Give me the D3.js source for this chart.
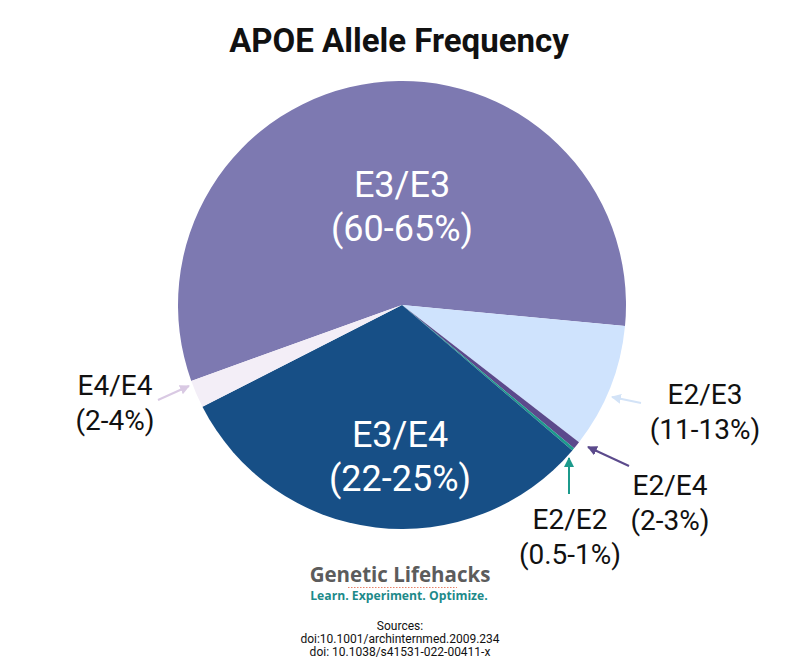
<!DOCTYPE html>
<html><head><meta charset="utf-8">
<script src="https://cdn.jsdelivr.net/npm/d3@7"></script>
<style>body{margin:0;background:#fff;} svg{display:block;font-family:Roboto,"Noto Sans",sans-serif;}</style>
</head><body>
<svg id="c" width="800" height="672"></svg>
<script>
const categories = ["E3/E3","E2/E3","E2/E4","E2/E2","E3/E4","E4/E4"];
const values = [57, 9, 0.55, 0.2, 31.25, 2];
const rangeLabels = ["(60-65%)","(11-13%)","(2-3%)","(0.5-1%)","(22-25%)","(2-4%)"];
const colors = ["#7d79b1","#cfe3fd","#5b4a8c","#1c9a8c","#174f86","#f3eef7"];

const svg = d3.select("#c");
const cx = 402, cy = 305, R = 224;
const pie = d3.pie().sort(null).value(d => d.v)
  .startAngle(-109.8 * Math.PI/180).endAngle(250.2 * Math.PI/180);
const data = categories.map((c,i)=>({c, v: values[i], r: rangeLabels[i], col: colors[i]}));
const arcs = pie(data);
const arc = d3.arc().innerRadius(0).outerRadius(R);
const g = svg.append("g").attr("transform", `translate(${cx},${cy})`);
g.selectAll("path").data(arcs).join("path").attr("d", arc).attr("fill", d => d.data.col);

svg.append("text").attr("x", 399).attr("y", 52).attr("text-anchor","middle")
  .attr("font-size", 33).attr("font-weight", 700).attr("fill","#111").text("APOE Allele Frequency");

// inner labels
const inner = [{i:0, x:402, y:197}, {i:4, x:400, y:447}];
inner.forEach(o => {
  const t = svg.append("text").attr("text-anchor","middle").attr("fill","#fff").attr("font-size",36);
  t.append("tspan").attr("x", o.x).attr("y", o.y).text(categories[o.i]);
  t.append("tspan").attr("x", o.x).attr("y", o.y + 44).text(rangeLabels[o.i]);
});

// outer labels
const outer = [
  {i:5, x:115, y:395, arrow:[158,400,189,386]},
  {i:1, x:705, y:404, arrow:[641,403,612,397]},
  {i:2, x:670, y:495, arrow:[629,466,588,447]},
  {i:3, x:570, y:529, arrow:[569,494,569,458]}
];
const defs = svg.append("defs");
outer.forEach((o,k) => {
  const col = k===0 ? "#d9c9e3" : (k===1 ? "#d3e3f7" : colors[o.i]);
  defs.append("marker").attr("id","m"+k).attr("viewBox","0 0 10 10").attr("refX",9).attr("refY",5)
    .attr("markerWidth",5).attr("markerHeight",5).attr("orient","auto")
    .append("path").attr("d","M0,0L10,5L0,10z").attr("fill",col);
  svg.append("line").attr("x1",o.arrow[0]).attr("y1",o.arrow[1]).attr("x2",o.arrow[2]).attr("y2",o.arrow[3])
    .attr("stroke",col).attr("stroke-width",2).attr("marker-end","url(#m"+k+")");
  const t = svg.append("text").attr("text-anchor","middle").attr("fill","#111").attr("font-size",28);
  t.append("tspan").attr("x", o.x).attr("y", o.y).text(categories[o.i]);
  t.append("tspan").attr("x", o.x).attr("y", o.y + 35).text(rangeLabels[o.i]);
});

// logo
svg.append("text").attr("x",400).attr("y",582).attr("text-anchor","middle").attr("font-family","'Open Sans',sans-serif")
  .attr("font-size",20.5).attr("font-weight",700).attr("fill","#5c5c5c").text("Genetic Lifehacks");
svg.append("line").attr("x1",348).attr("x2",457).attr("y1",587.5).attr("y2",587.5)
  .attr("stroke","#e8836a").attr("stroke-width",1.2).attr("stroke-dasharray","1.5,1.5");
svg.append("text").attr("x",399).attr("y",600).attr("text-anchor","middle").attr("font-family","'Open Sans',sans-serif")
  .attr("font-size",12.2).attr("font-weight",700).attr("fill","#1d8a8a").text("Learn. Experiment. Optimize.");

const src = ["Sources:","doi:10.1001/archinternmed.2009.234","doi: 10.1038/s41531-022-00411-x"];
src.forEach((s,i)=> svg.append("text").attr("x",400).attr("y",630 + i*13).attr("text-anchor","middle")
  .attr("font-size",12).attr("fill","#111").text(s));
</script>
</body></html>
